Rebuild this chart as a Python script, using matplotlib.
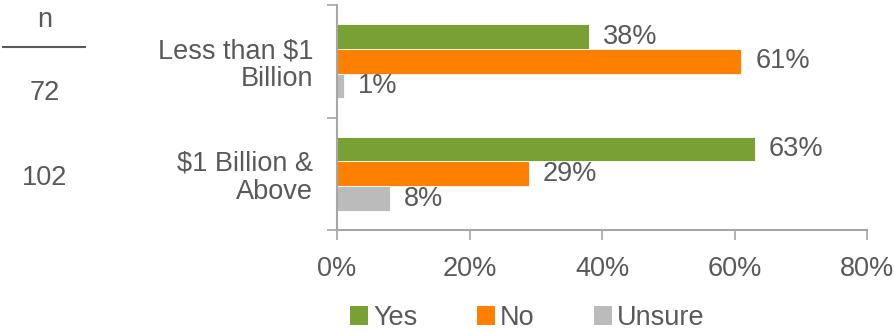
import matplotlib.pyplot as plt
from matplotlib.lines import Line2D
from matplotlib.patches import Patch
import numpy as np

plt.rcParams['font.family'] = ['Liberation Sans', 'DejaVu Sans']

# Survey data
categories = ['Less than $1\nBillion', '$1 Billion &\nAbove']
sample_sizes = ['72', '102']
series_names = ['Yes', 'No', 'Unsure']
yes_vals = [38, 63]
no_vals = [61, 29]
unsure_vals = [1, 8]

colors = ['#78A033', '#FF8000', '#BBBBBB']
text_color = '#595959'
axis_color = '#A6A6A6'
fs = 19.5


def plot_chart():
    fig = plt.figure(figsize=(8.94, 3.33), dpi=100)
    ax = fig.add_axes([0.377, 0.309, 0.593, 0.676])

    bar_h = 0.22
    y = np.arange(len(categories))
    all_series = [yes_vals, no_vals, unsure_vals]
    for i, (vals, col) in enumerate(zip(all_series, colors)):
        pos = y + (i - 1) * bar_h
        ax.barh(pos, vals, height=bar_h, color=col, edgecolor='white', linewidth=0.6)
        for p, v in zip(pos, vals):
            ax.annotate(f'{v}%', xy=(v, p), xytext=(10, 0), textcoords='offset points',
                        ha='left', va='center', fontsize=fs, color=text_color)

    ax.set_xlim(0, 80)
    ax.set_ylim(len(categories) - 0.5, -0.5)
    ax.set_xticks([0, 20, 40, 60, 80])
    ax.set_xticklabels(['0%', '20%', '40%', '60%', '80%'])

    # category labels sit between boundary ticks
    ax.set_yticks([-0.5, 0.5, 1.5])
    ax.set_yticklabels([])
    ax.set_yticks(y, minor=True)
    ax.set_yticklabels(categories, minor=True, ha='right', fontsize=fs, color=text_color,
                       linespacing=1.1)
    ax.tick_params(axis='y', which='minor', length=0, pad=17)
    ax.tick_params(axis='y', which='major', length=7, width=1.2, color=axis_color, direction='out')
    ax.tick_params(axis='x', length=7, width=1.2, color=axis_color, direction='out',
                   labelsize=fs, labelcolor=text_color, pad=12)

    for s in ['top', 'right']:
        ax.spines[s].set_visible(False)
    for s in ['left', 'bottom']:
        ax.spines[s].set_color(axis_color)
        ax.spines[s].set_linewidth(1.5)

    # sample size column
    fig.text(45 / 894, 1 - 20 / 333, 'n', ha='center', va='center', fontsize=fs, color=text_color)
    fig.add_artist(Line2D([3 / 894, 85 / 894], [1 - 47 / 333, 1 - 47 / 333],
                          color=text_color, linewidth=1.5))
    for cy, n in zip([93, 178], sample_sizes):
        fig.text(45 / 894, 1 - cy / 333, n, ha='center', va='center', fontsize=fs, color=text_color)

    handles = [Patch(facecolor=c, edgecolor='none') for c in colors]
    fig.legend(handles, series_names, loc='center', bbox_to_anchor=(0.59, 1 - 318 / 333),
               ncol=3, frameon=False, fontsize=fs, labelcolor=text_color,
               handlelength=0.65, handleheight=0.65, handletextpad=0.2, columnspacing=2.2,
               borderpad=0, borderaxespad=0)

    fig.savefig('out.png', dpi=100)


if __name__ == '__main__':
    plot_chart()
